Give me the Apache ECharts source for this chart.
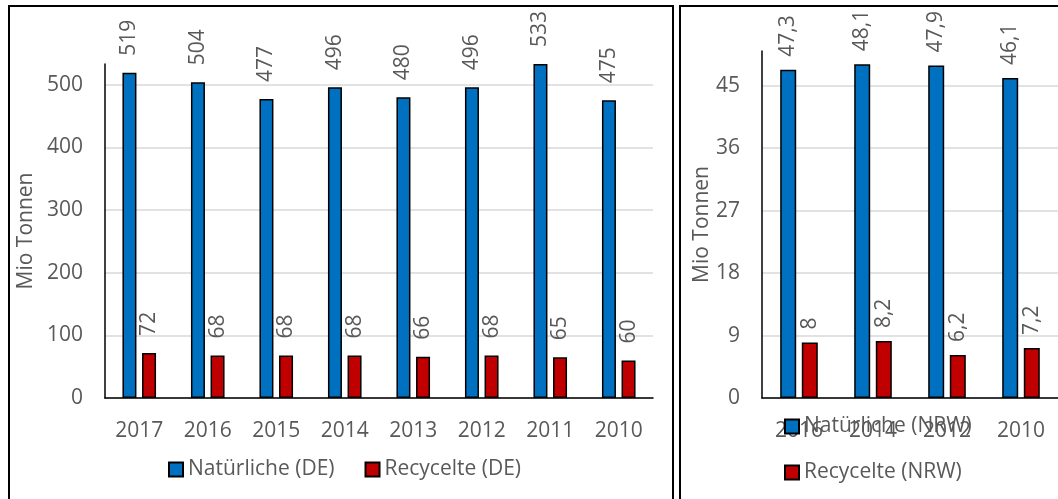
<!DOCTYPE html>
<html lang="de">

<head>
    <meta charset="UTF-8">
    <script src="https://cdn.jsdelivr.net/npm/echarts@6.0.0/dist/echarts.min.js"></script>
    <title>Rohstoffe</title>
    <style>
        body { margin: 0; background: #fff; overflow: hidden; }
        #wrap { position: relative; width: 1058px; height: 499px; overflow: hidden; }
        .panel { position: absolute; border: 2px solid #000; box-sizing: border-box; }
        #boxDE { left: 8px; top: 5px; width: 666px; height: 520px; }
        #boxNRW { left: 679px; top: 5px; width: 420px; height: 520px; }
        #chart { position: absolute; left: 0; top: 0; width: 1058px; height: 499px; }
    </style>
</head>

<body>
    <div id="wrap">
        <div class="panel" id="boxDE"></div>
        <div class="panel" id="boxNRW"></div>
        <div id="chart"></div>
    </div>

    <script type="text/javascript">
        // Deutschland
        var yearsDE = ['2017', '2016', '2015', '2014', '2013', '2012', '2011', '2010'];
        var natDE = [519, 504, 477, 496, 480, 496, 533, 475];
        var recDE = [72, 68, 68, 68, 66, 68, 65, 60];

        // NRW
        var yearsNRW = ['2016', '2014', '2012', '2010'];
        var natNRW = [47.3, 48.1, 47.9, 46.1];
        var recNRW = [8, 8.2, 6.2, 7.2];

        var txt = '#595959';
        var font = 'Open Sans';
        var fs = 21;
        var grid = '#d9d9d9';

        // letzte Linie (am max) ausblenden
        var gridColors = [grid, grid, grid, grid, grid, grid, 'rgba(0,0,0,0)'];

        function comma(p) {
            return String(p.value).replace('.', ',');
        }

        function barLabel(dist, fmt) {
            return {
                show: true,
                position: 'top',
                rotate: 90,
                align: 'left',
                verticalAlign: 'middle',
                distance: dist,
                color: txt,
                fontFamily: font,
                fontSize: fs,
                formatter: fmt
            };
        }

        function yAxis(idx, max, step, gap) {
            return {
                type: 'value',
                gridIndex: idx,
                min: 0,
                max: max,
                interval: step,
                name: 'Mio Tonnen',
                nameLocation: 'middle',
                nameGap: gap,
                nameTextStyle: { color: txt, fontFamily: font, fontSize: fs },
                axisLine: { show: true, lineStyle: { color: '#000', width: 1.5 } },
                axisTick: { show: false },
                axisLabel: { color: txt, fontFamily: font, fontSize: fs, margin: 22, showMaxLabel: false },
                splitLine: { show: true, lineStyle: { color: gridColors, width: 1.5 } }
            };
        }

        function xAxis(idx, data) {
            return {
                type: 'category',
                gridIndex: idx,
                data: data,
                axisLine: { lineStyle: { color: '#000', width: 1.5 } },
                axisTick: { show: false },
                axisLabel: { color: txt, fontFamily: font, fontSize: fs, margin: 23 }
            };
        }

        var chart = echarts.init(document.getElementById('chart'));

        var option = {
            animation: false,
            backgroundColor: 'transparent',
            legend: [
                {
                    left: 163,
                    top: 454,
                    itemWidth: 14,
                    itemHeight: 14,
                    itemGap: 30,
                    icon: 'rect',
                    textStyle: { color: txt, fontFamily: font, fontSize: fs },
                    data: ['Natürliche (DE)', 'Recycelte (DE)']
                },
                {
                    left: 779,
                    top: 411,
                    orient: 'vertical',
                    itemWidth: 14,
                    itemHeight: 14,
                    itemGap: 25,
                    icon: 'rect',
                    textStyle: { color: txt, fontFamily: font, fontSize: fs },
                    data: ['Natürliche (NRW)', 'Recycelte (NRW)']
                }
            ],
            grid: [
                { left: 105, top: 64, bottom: 101, width: 548 },
                { left: 762, top: 51, bottom: 101, width: 306 }
            ],
            xAxis: [xAxis(0, yearsDE), xAxis(1, yearsNRW)],
            yAxis: [yAxis(0, 533, 100, 62), yAxis(1, 50, 9, 33)],
            series: [
                {
                    name: 'Natürliche (DE)',
                    type: 'bar',
                    xAxisIndex: 0,
                    yAxisIndex: 0,
                    barWidth: 14,
                    barGap: '40%',
                    itemStyle: { color: '#0070c0', borderColor: '#000', borderWidth: 1.5 },
                    label: barLabel(17),
                    data: natDE
                },
                {
                    name: 'Recycelte (DE)',
                    type: 'bar',
                    xAxisIndex: 0,
                    yAxisIndex: 0,
                    barWidth: 14,
                    barGap: '40%',
                    itemStyle: { color: '#c00000', borderColor: '#000', borderWidth: 1.5 },
                    label: barLabel(17),
                    data: recDE
                },
                {
                    name: 'Natürliche (NRW)',
                    type: 'bar',
                    xAxisIndex: 1,
                    yAxisIndex: 1,
                    barWidth: 16,
                    barGap: '35%',
                    itemStyle: { color: '#0070c0', borderColor: '#000', borderWidth: 1.5 },
                    label: barLabel(13, comma),
                    data: natNRW
                },
                {
                    name: 'Recycelte (NRW)',
                    type: 'bar',
                    xAxisIndex: 1,
                    yAxisIndex: 1,
                    barWidth: 16,
                    barGap: '35%',
                    itemStyle: { color: '#c00000', borderColor: '#000', borderWidth: 1.5 },
                    label: barLabel(13, comma),
                    data: recNRW
                }
            ]
        };
        chart.setOption(option);
    </script>
</body>

</html>
